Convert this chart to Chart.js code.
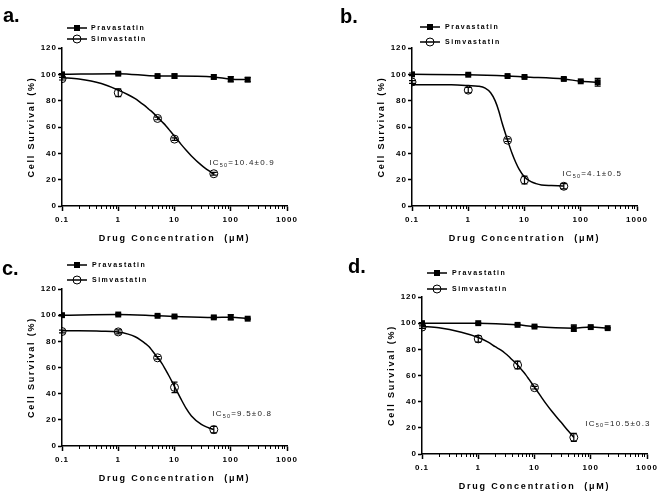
<!DOCTYPE html>
<html>
<head>
<meta charset="utf-8">
<script src="https://cdn.jsdelivr.net/npm/chart.js@4.4.1/dist/chart.umd.min.js"></script>
<style>
  body { margin: 0; background: #fff; }
  #fig { position: relative; width: 660px; height: 496px; overflow: hidden; background: #fff; }
  #fig canvas { position: absolute; }
  .tag { position: absolute; font: bold 20px "Liberation Sans", Arial, sans-serif; line-height: 20px; color: #000; }
</style>
</head>
<body>
<div id="fig">
  <canvas id="ca" width="330" height="248" style="left:0;top:0"></canvas>
  <canvas id="cb" width="330" height="248" style="left:330px;top:0"></canvas>
  <canvas id="cc" width="330" height="248" style="left:0;top:248px"></canvas>
  <canvas id="cd" width="330" height="248" style="left:330px;top:248px"></canvas>
  <div class="tag" style="left:3px;top:5px">a.</div>
  <div class="tag" style="left:340px;top:6px">b.</div>
  <div class="tag" style="left:2px;top:258px">c.</div>
  <div class="tag" style="left:348px;top:256px">d.</div>
</div>
<script>
// Konzentrationen (µM) und Achsen
const praConc = [0.1, 1, 5, 10, 50, 100, 200];
const simConc = [0.1, 1, 5, 10, 50];
const fitConc = [0.1, 0.2, 0.5, 1, 1.5, 2, 2.5, 3, 3.5, 4, 5, 6, 7, 8, 10, 13, 16, 20, 30, 40, 50];
const xTicks = [0.1, 1, 10, 100, 1000];
const yTicks = [0, 20, 40, 60, 80, 100, 120];
const seriesNames = ["Pravastatin", "Simvastatin"];
const ic50 = ["10.4±0.9", "4.1±0.5", "9.5±0.8", "10.5±0.3"];

// Panel a
const praA = [100, 100.5, 98.7, 98.7, 98, 96.3, 96];
const praErrA = [0.5, 0.8, 0.5, 1.5, 1.5, 2, 1.5];
const simA = [96.7, 86, 66.5, 50.8, 24.5];
const simErrA = [1, 3, 1, 1, 1];
const fitA = [97.5, 96.5, 93, 88, 84.5, 81.5, 78.5, 76, 73.5, 71.5, 67.5, 64, 61, 58, 53, 47, 42.5, 38, 31, 27, 24];

// Panel b
const praB = [100, 99.7, 98.7, 98, 96.5, 94.7, 94];
const praErrB = [1, 0.5, 0.5, 0.5, 1, 0.5, 3];
const simB = [94.2, 88, 50, 19.7, 15];
const simErrB = [1, 2, 1, 3, 2];
const fitB = [92, 92, 92, 91.5, 91, 89.5, 86, 80, 72, 63, 50, 40, 33, 28, 22, 18.5, 17, 16, 15.5, 15.3, 15.2];

// Panel c
const praC = [100, 100.5, 99.5, 99, 98.3, 98.4, 97.3];
const praErrC = [0.5, 0.5, 0.5, 0.5, 1, 2, 0.5];
const simC = [87.5, 87.2, 67.4, 44.8, 12.5];
const simErrC = [1, 1.5, 1, 4, 2.5];
const fitC = [88, 88, 87.8, 87.2, 85.5, 83.5, 81, 78.5, 76, 73, 67.5, 63, 58, 53.5, 45.5, 36, 29, 23, 16.5, 14, 12.5];

// Panel d
const praD = [100, 100, 98.7, 97.4, 96.2, 97, 96.2];
const praErrD = [0.5, 0.5, 0.5, 0.5, 2.5, 0.5, 0.5];
const simD = [97, 88, 68, 50.7, 12.7];
const simErrD = [1, 2.5, 3, 1, 3];
const fitD = [97.5, 96.5, 93, 89, 85.5, 82, 79.5, 77, 74.5, 72, 68, 64, 60.5, 57, 51, 44, 38.5, 33, 24, 17.5, 12.7];

const FONT = "'Liberation Sans', Arial, sans-serif";
Chart.defaults.font.family = FONT;
Chart.defaults.color = "#000";

// Layout der vier Panels (Pixel innerhalb der Canvas)
const panels = [
  { id: "ca", pra: praA, praErr: praErrA, sim: simA, simErr: simErrA, fit: fitA, ic: ic50[0],
    area: { left: 62, right: 287, top: 48, bottom: 206 }, legend: { x0: 67, x1: 87, tx: 91, rows: [28, 39] }, note: { x: 41.7, y: 32.6 } },
  { id: "cb", pra: praB, praErr: praErrB, sim: simB, simErr: simErrB, fit: fitB, ic: ic50[1],
    area: { left: 82, right: 307, top: 48, bottom: 206 }, legend: { x0: 90, x1: 110, tx: 115, rows: [27, 42] }, note: { x: 47, y: 24.2 } },
  { id: "cc", pra: praC, praErr: praErrC, sim: simC, simErr: simErrC, fit: fitC, ic: ic50[2],
    area: { left: 62, right: 287, top: 41, bottom: 198 }, legend: { x0: 67, x1: 87, tx: 92, rows: [17, 32] }, note: { x: 47, y: 24.4 } },
  { id: "cd", pra: praD, praErr: praErrD, sim: simD, simErr: simErrD, fit: fitD, ic: ic50[3],
    area: { left: 92, right: 317, top: 49, bottom: 206 }, legend: { x0: 97, x1: 117, tx: 122, rows: [25, 41] }, note: { x: 80, y: 23 } }
];

// Fehlerbalken
const errorBars = {
  id: "errorBars",
  afterDatasetsDraw(chart) {
    const { ctx, scales: { x, y } } = chart;
    ctx.save();
    ctx.strokeStyle = "#000";
    ctx.lineWidth = 1.2;
    chart.data.datasets.forEach(ds => {
      if (!ds.errors) return;
      ds.data.forEach((p, i) => {
        const e = ds.errors[i];
        if (!e) return;
        const px = x.getPixelForValue(p.x);
        const top = y.getPixelForValue(p.y + e);
        const bot = y.getPixelForValue(p.y - e);
        ctx.beginPath();
        ctx.moveTo(px, top); ctx.lineTo(px, bot);
        ctx.moveTo(px - 3, top); ctx.lineTo(px + 3, top);
        ctx.moveTo(px - 3, bot); ctx.lineTo(px + 3, bot);
        ctx.stroke();
      });
    });
    ctx.restore();
  }
};

// kleine Ticks der log-Achse
const minorTicks = {
  id: "minorTicks",
  afterDraw(chart) {
    const { ctx, scales: { x }, chartArea } = chart;
    ctx.save();
    ctx.strokeStyle = "#000";
    ctx.lineWidth = 1;
    for (let d = 0; d < xTicks.length - 1; d++) {
      for (let m = 2; m <= 9; m++) {
        const px = Math.round(x.getPixelForValue(xTicks[d] * m)) + 0.5;
        ctx.beginPath();
        ctx.moveTo(px, chartArea.bottom);
        ctx.lineTo(px, chartArea.bottom + 3);
        ctx.stroke();
      }
    }
    ctx.restore();
  }
};

// Legende oben links
const panelLegend = {
  id: "panelLegend",
  afterDraw(chart, args, opts) {
    const ctx = chart.ctx;
    ctx.save();
    ctx.letterSpacing = "1.5px";
    ctx.font = "bold 7px " + FONT;
    ctx.textBaseline = "middle";
    ctx.textAlign = "left";
    ctx.fillStyle = "#000";
    ctx.strokeStyle = "#000";
    seriesNames.forEach((name, i) => {
      const y = opts.rows[i];
      const cx = (opts.x0 + opts.x1) / 2;
      ctx.lineWidth = 1.5;
      ctx.beginPath(); ctx.moveTo(opts.x0, y); ctx.lineTo(opts.x1, y); ctx.stroke();
      if (i === 0) {
        ctx.fillRect(cx - 3, y - 3, 6, 6);
      } else {
        ctx.lineWidth = 1;
        ctx.beginPath(); ctx.arc(cx, y, 4, 0, Math.PI * 2); ctx.stroke();
      }
      ctx.fillText(name, opts.tx, y);
    });
    ctx.restore();
  }
};

// IC50-Beschriftung
const icNote = {
  id: "icNote",
  afterDraw(chart, args, opts) {
    const { ctx, scales: { x, y } } = chart;
    let px = x.getPixelForValue(opts.x);
    const py = y.getPixelForValue(opts.y);
    ctx.save();
    ctx.fillStyle = "#222";
    ctx.textBaseline = "middle";
    ctx.textAlign = "left";
    ctx.letterSpacing = "1.2px";
    ctx.font = "8px " + FONT;
    ctx.fillText("IC", px, py);
    px += ctx.measureText("IC").width;
    ctx.font = "5.5px " + FONT;
    ctx.fillText("50", px, py + 2);
    px += ctx.measureText("50").width;
    ctx.font = "8px " + FONT;
    ctx.fillText("=" + opts.text, px, py);
    ctx.restore();
  }
};

// Sperrschrift für Achsentitel und Tick-Labels
function spacedScale(scale) {
  if (scale._spaced) return;
  scale._spaced = true;
  const proto = Object.getPrototypeOf(scale);
  scale.drawTitle = function () {
    const prev = this.ctx.letterSpacing;
    this.ctx.letterSpacing = "1.8px";
    proto.drawTitle.call(this);
    this.ctx.letterSpacing = prev;
  };
  scale.drawLabels = function (area) {
    const prev = this.ctx.letterSpacing;
    this.ctx.letterSpacing = "1px";
    proto.drawLabels.call(this, area);
    this.ctx.letterSpacing = prev;
  };
}

function makeChart(p) {
  const a = p.area;
  const W = 330, H = 248;
  const axisLine = { display: true, color: "#000", width: 1.5 };
  const gridOpts = { display: true, drawOnChartArea: false, drawTicks: true, tickLength: 4, color: "#000", tickWidth: 1.5 };

  new Chart(document.getElementById(p.id), {
    type: "scatter",
    data: {
      datasets: [
        {
          label: seriesNames[0],
          data: praConc.map((c, i) => ({ x: c, y: p.pra[i] })),
          errors: p.praErr,
          showLine: true,
          cubicInterpolationMode: "monotone",
          borderColor: "#000",
          backgroundColor: "#000",
          borderWidth: 1.5,
          pointStyle: "rect",
          pointRadius: 4.2,
          pointBorderWidth: 0
        },
        {
          label: seriesNames[1],
          data: simConc.map((c, i) => ({ x: c, y: p.sim[i] })),
          errors: p.simErr,
          showLine: false,
          borderColor: "#000",
          backgroundColor: "rgba(0,0,0,0)",
          pointStyle: "circle",
          pointRadius: 4,
          pointBorderWidth: 1
        },
        {
          label: seriesNames[1] + " fit",
          data: fitConc.map((c, i) => ({ x: c, y: p.fit[i] })),
          showLine: true,
          cubicInterpolationMode: "monotone",
          borderColor: "#000",
          borderWidth: 1.5,
          pointRadius: 0
        }
      ]
    },
    options: {
      responsive: false,
      animation: false,
      events: [],
      layout: { padding: { left: 0, top: a.top, right: W - a.right, bottom: 0 } },
      plugins: {
        legend: { display: false },
        tooltip: { enabled: false },
        panelLegend: p.legend,
        icNote: { x: p.note.x, y: p.note.y, text: p.ic }
      },
      scales: {
        x: {
          type: "logarithmic",
          min: xTicks[0],
          max: xTicks[xTicks.length - 1],
          border: axisLine,
          grid: Object.assign({}, gridOpts, { tickLength: 5 }),
          afterBuildTicks: s => { s.ticks = xTicks.map(v => ({ value: v })); },
          ticks: {
            autoSkip: false,
            maxRotation: 0,
            padding: 4,
            font: { size: 8, weight: "bold" },
            callback: v => String(v)
          },
          title: {
            display: true,
            text: "Drug Concentration  (μM)",
            font: { size: 9, weight: "bold" },
            padding: { top: 0, bottom: (H - (a.bottom + 33)) - 5.4 }
          },
          afterFit: s => { s.height = H - a.bottom; spacedScale(s); }
        },
        y: {
          min: yTicks[0],
          max: yTicks[yTicks.length - 1],
          border: axisLine,
          grid: gridOpts,
          afterBuildTicks: s => { s.ticks = yTicks.map(v => ({ value: v })); },
          ticks: {
            autoSkip: false,
            padding: 1,
            font: { size: 8, weight: "bold" }
          },
          title: {
            display: true,
            text: "Cell Survival (%)",
            font: { size: 9, weight: "bold" },
            padding: { top: a.left - 30 - 5.4, bottom: 0 }
          },
          afterFit: s => { s.width = a.left; spacedScale(s); }
        }
      }
    },
    plugins: [errorBars, minorTicks, panelLegend, icNote]
  });
}

panels.forEach(makeChart);
</script>
</body>
</html>
